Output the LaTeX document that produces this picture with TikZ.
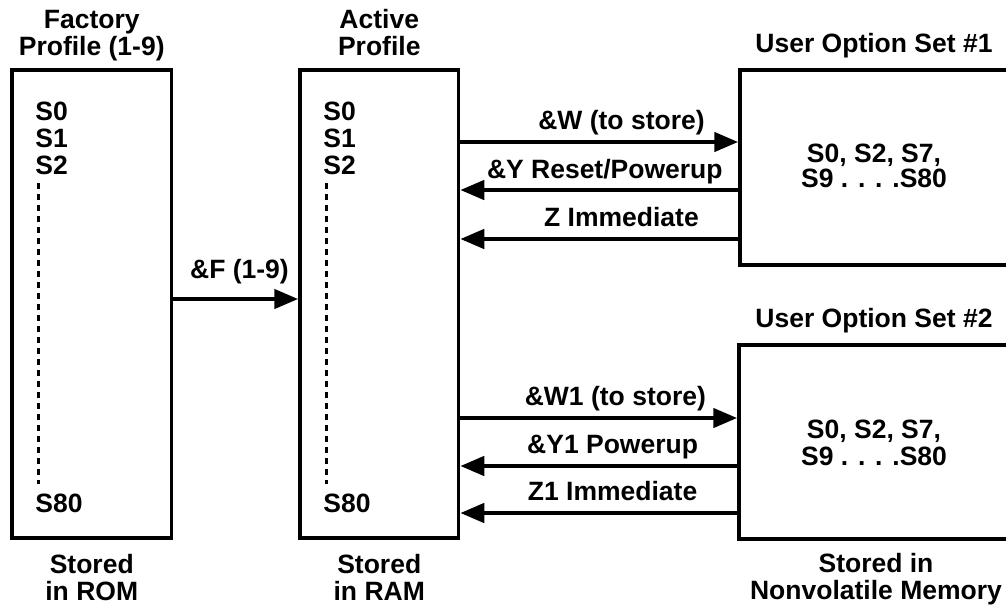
\documentclass[tikz,border=0pt]{standalone}
\usepackage{fontspec}
\setmainfont{Liberation Sans}
\usetikzlibrary{positioning, arrows.meta}

\begin{document}
\begin{tikzpicture}[x=1pt, y=-1pt, >={Triangle[length=24pt,width=19pt]},
  font=\bfseries\fontsize{26.5}{27}\selectfont,
  box/.style={draw, line width=3.5pt, inner sep=0pt},
  txt/.style={inner sep=0pt, align=center},
  title/.style={txt, text depth=0pt},
  list/.style={inner sep=0pt, align=left},
  flow/.style={->, line width=4.5pt},
  lbl/.style={inner sep=0pt, anchor=base, yshift=13pt},
  dotline/.style={line width=3pt, dash pattern=on 6pt off 5pt}]
  \useasboundingbox (0,0) rectangle (1006,606);
  \clip (0,0) rectangle (1006,606);

  % boxes
  \node[box, minimum width=159.5pt, minimum height=468pt] (factory) at (91.75,304) {};
  \node[box, minimum width=158.5pt, minimum height=468pt] (active) at (379.25,304) {};
  \node[box, minimum width=300pt, minimum height=195pt] (user1) at (890,167.5) {};
  \node[box, minimum width=300pt, minimum height=194pt] (user2) at (889,442) {};

  % titles
  \node[title, above=13pt of factory] (ftitle) {Factory\\Profile (1-9)};
  \node[title, above=13pt of active] (atitle) {Active\\Profile};
  \node[title, anchor=south] (u1title) at (874,53) {User Option Set \#1};
  \node[title, anchor=south] (u2title) at (874,328) {User Option Set \#2};

  % where stored
  \node[txt, below=14pt of factory] (fstore) {Stored\\in ROM};
  \node[txt, below=14pt of active] (astore) {Stored\\in RAM};
  \node[txt, anchor=north] (ustore) at (876,553) {Stored in\\Nonvolatile Memory};

  % register lists
  \node[list, below right=34pt and 25pt of factory.north west] (flist) {S0\\S1\\S2};
  \node[list, above right=27pt and 25pt of factory.south west] (fs80) {S80};
  \node[list, below right=34pt and 25pt of active.north west] (alist) {S0\\S1\\S2};
  \node[list, above right=27pt and 25pt of active.south west] (as80) {S80};
  \draw[dotline] ([xshift=3pt, yshift=-8pt]flist.south west) -- ([xshift=3pt, yshift=10pt]fs80.north west);
  \draw[dotline] ([xshift=3pt, yshift=-8pt]alist.south west) -- ([xshift=3pt, yshift=10pt]as80.north west);

  \node[txt, font=\bfseries\fontsize{26.5}{25}\selectfont] (u1set) at (874,165.5) {S0, S2, S7,\\S9 . . . .S80};
  \node[txt] (u2set) at (874,443) {S0, S2, S7,\\S9 . . . .S80};

  % arrow heights
  \coordinate (aF) at (0,299);
  \coordinate (aW) at (0,142);
  \coordinate (aY) at (0,190);
  \coordinate (aZ) at (0,239);
  \coordinate (aW1) at (0,418);
  \coordinate (aY1) at (0,466);
  \coordinate (aZ1) at (0,513);

  % transfers
  \draw[flow] (factory.east |- aF) -- (active.west |- aF) node[lbl, pos=.53, yshift=8pt] {\&F (1-9)};
  \draw[flow] (active.east |- aW) -- (user1.west |- aW) node[lbl, pos=.58] {\&W (to store)};
  \draw[flow] (user1.west |- aY) -- (active.east |- aY) node[lbl, pos=.48, yshift=-1pt] {\&Y Reset/Powerup};
  \draw[flow] (user1.west |- aZ) -- (active.east |- aZ) node[lbl, pos=.42] {Z Immediate};
  \draw[flow] (active.east |- aW1) -- (user2.west |- aW1) node[lbl, pos=.56] {\&W1 (to store)};
  \draw[flow] (user2.west |- aY1) -- (active.east |- aY1) node[lbl, pos=.45] {\&Y1 Powerup};
  \draw[flow] (user2.west |- aZ1) -- (active.east |- aZ1) node[lbl, pos=.45] {Z1 Immediate};
\end{tikzpicture}
\end{document}
